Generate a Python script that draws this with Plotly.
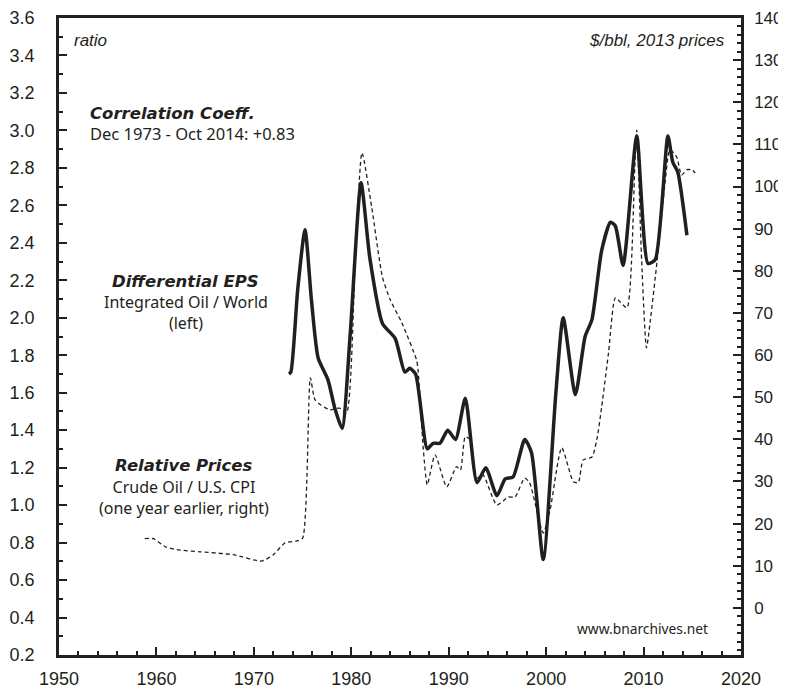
import plotly.graph_objects as go

# Differential EPS: Integrated Oil / World (left axis, ratio)
eps_years = [1973.6, 1973.8, 1974.5, 1975.25, 1975.9, 1976.6, 1977.6, 1978.3, 1979.05,
             1979.9, 1981.0, 1981.9, 1983.2, 1984.5, 1985.5, 1986.0, 1986.6, 1987.8,
             1988.4, 1989.1, 1989.9, 1990.7, 1991.7, 1992.9, 1993.8, 1994.95, 1995.8,
             1996.6, 1997.8, 1998.5, 1999.7, 2001.0, 2001.75, 2003.0, 2004.0, 2004.7,
             2005.7, 2006.6, 2007.1, 2007.9, 2009.3, 2010.45, 2011.2, 2012.5, 2013.0,
             2013.5, 2014.45]
eps_values = [1.70, 1.71, 2.15, 2.47, 2.10, 1.785, 1.67, 1.52, 1.41,
              1.92, 2.72, 2.32, 1.97, 1.89, 1.71, 1.73, 1.70, 1.30,
              1.33, 1.33, 1.40, 1.35, 1.57, 1.12, 1.20, 1.05, 1.14,
              1.15, 1.35, 1.28, 0.71, 1.60, 2.00, 1.59, 1.90, 1.99,
              2.36, 2.51, 2.49, 2.28, 2.97, 2.29, 2.31, 2.97, 2.83,
              2.78, 2.44]

# Relative Prices: Crude Oil / U.S. CPI, one year earlier ($/bbl, 2013 prices, right axis)
oil_years = [1958.8, 1959.7, 1960.9, 1962.1, 1964.5, 1967.9, 1970.8, 1972.0, 1973.2,
             1974.4, 1975.0, 1975.8, 1976.3, 1977.8, 1978.8, 1979.5, 1980.4, 1981.1,
             1982.1, 1983.2, 1984.0, 1985.2, 1986.7, 1986.85, 1987.4, 1987.8, 1988.6,
             1989.8, 1990.8, 1991.2, 1991.7, 1992.2, 1992.9, 1993.5, 1994.95, 1996.1,
             1996.8, 1997.8, 1998.3, 1999.7, 2000.4, 2001.6, 2002.8, 2003.3, 2003.8,
             2004.7, 2005.2, 2005.7, 2006.4, 2007.1, 2007.6, 2008.3, 2009.1, 2009.3,
             2009.8, 2010.3, 2010.7, 2011.4, 2012.2, 2012.7, 2013.4, 2013.9, 2014.45,
             2015.0, 2015.3]
oil_values = [16.4, 16.4, 14.5, 13.8, 13.3, 12.6, 11.1, 12.6, 15.4,
              15.9, 16.5, 54.6, 49.3, 47.0, 47.4, 46.2, 82.0, 108.0,
              95.0, 78.5, 73.1, 67.6, 58.8, 56.5, 37.5, 29.2, 36.3,
              28.7, 33.5, 32.7, 40.6, 39.9, 30.8, 31.6, 24.4, 26.3,
              26.3, 30.8, 29.7, 17.8, 23.2, 38.0, 29.9, 29.7, 35.1,
              35.8, 39.9, 47.7, 60.5, 73.6, 72.6, 71.2, 104.6, 113.4,
              82.6, 61.7, 68.3, 82.6, 100.8, 108.7, 107.0, 102.7, 104.0,
              103.9, 103.2]

left_ticks = [0.2, 0.4, 0.6, 0.8, 1.0, 1.2, 1.4, 1.6, 1.8, 2.0, 2.2, 2.4, 2.6, 2.8, 3.0, 3.2, 3.4, 3.6]
right_ticks = [0, 10, 20, 30, 40, 50, 60, 70, 80, 90, 100, 110, 120, 130, 140]
x_ticks = [1950, 1960, 1970, 1980, 1990, 2000, 2010, 2020]

INK = "#231f20"
TICKFONT = dict(family="Liberation Sans Narrow, Liberation Sans, Arial", size=18, color=INK)
TICKFONT_R = dict(family="Liberation Sans Narrow, Liberation Sans, Arial", size=17, color=INK)
ANNFONT = "Noto Sans, Open Sans, sans-serif"
BOLDFONT = "DejaVu Sans, Liberation Sans, sans-serif"

fig = go.Figure()
fig.add_trace(go.Scatter(x=oil_years, y=oil_values, yaxis="y2", mode="lines",
                         line=dict(color=INK, width=1.3, dash="4px,3px", shape="spline", smoothing=0.6),
                         showlegend=False, hoverinfo="skip"))
fig.add_trace(go.Scatter(x=eps_years, y=eps_values, mode="lines",
                         line=dict(color=INK, width=3.5, shape="spline", smoothing=0.6),
                         showlegend=False, hoverinfo="skip"))

axis_common = dict(showgrid=False, zeroline=False, showline=True, linecolor=INK, linewidth=2.5,
                   ticks="inside", tickcolor=INK, tickwidth=2, ticklen=8,
                   automargin=False)

# the page body adds an 8px offset, so the figure is 8px smaller on each axis
fig.update_layout(
    width=778, height=682,
    margin=dict(l=51, r=45, t=10, b=35),
    paper_bgcolor="white", plot_bgcolor="white",
    xaxis=dict(range=[1950, 2020], tickvals=x_ticks, mirror=True, tickfont=TICKFONT,
               minor=dict(dtick=2, ticks="inside", ticklen=4, tickwidth=1.5, tickcolor=INK),
               ticklabelstandoff=6, **axis_common),
    yaxis=dict(range=[0.2, 3.6], tickvals=left_ticks, tickformat=".1f", tickfont=TICKFONT,
               minor=dict(dtick=0.1, tick0=0.2, ticks="inside", ticklen=4, tickwidth=1.5, tickcolor=INK),
               ticklabelstandoff=18, **axis_common),
    yaxis2=dict(range=[-11.2, 140], tickvals=right_ticks, overlaying="y", side="right", tickfont=TICKFONT_R,
                minor=dict(dtick=2, tick0=0, ticks="inside", ticklen=4, tickwidth=1.5, tickcolor=INK),
                ticklabelstandoff=7, **axis_common),
)

def ann(text, x, y, font, size, xanchor="left", bold=False, italic=False):
    t = text
    if bold:
        t = "<b>" + t + "</b>"
    if italic:
        t = "<i>" + t + "</i>"
    fig.add_annotation(text=t, x=x, y=y, xref="x", yref="y", xanchor=xanchor, yanchor="middle",
                       showarrow=False, align="center" if xanchor == "center" else "left",
                       font=dict(family=font, size=size, color=INK))

ann("ratio", 1951.3, 3.48, "Liberation Sans, Arial", 17, italic=True)
ann("$/bbl, 2013 prices", 2018.6, 3.48, "Liberation Sans, Arial", 17, xanchor="right", italic=True)
ann("Correlation Coeff.", 1953.0, 3.09, BOLDFONT, 16.5, bold=True, italic=True)
ann("Dec 1973 - Oct 2014: +0.83", 1953.0, 2.985, ANNFONT, 16.5)
ann("Differential EPS", 1963.0, 2.196, BOLDFONT, 16.5, xanchor="center", bold=True, italic=True)
ann("Integrated Oil / World<br>(left)", 1963.0, 2.03, ANNFONT, 16, xanchor="center")
ann("Relative Prices", 1962.8, 1.209, BOLDFONT, 16.5, xanchor="center", bold=True, italic=True)
ann("Crude Oil / U.S. CPI<br>(one year earlier, right)", 1962.8, 1.043, ANNFONT, 16, xanchor="center")
ann("www.bnarchives.net", 2016.8, 0.34, ANNFONT, 13.8, xanchor="right")

fig.write_html("out.html")
